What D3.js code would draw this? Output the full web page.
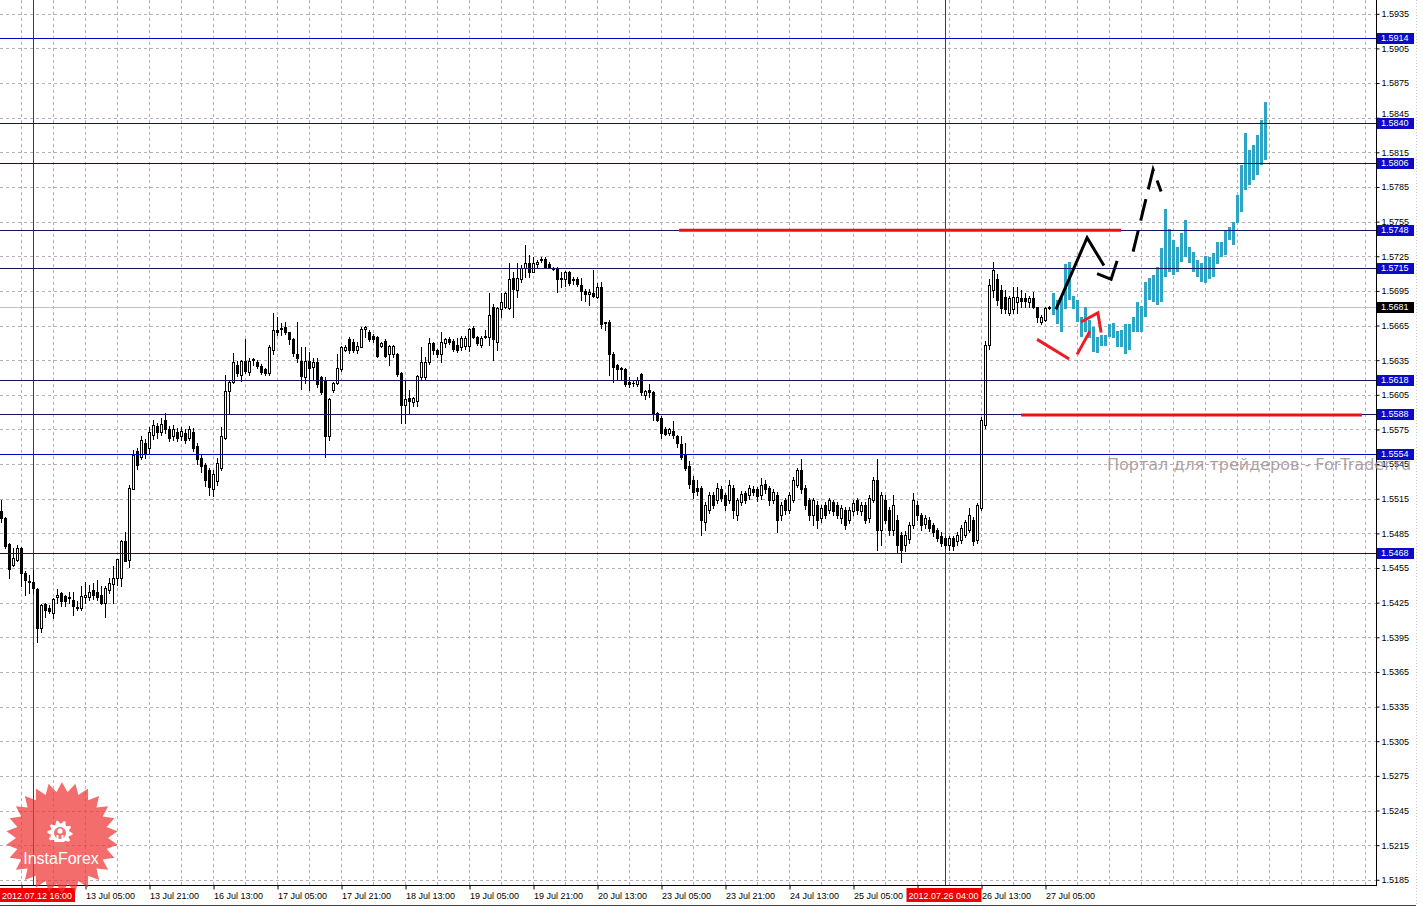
<!DOCTYPE html>
<html><head><meta charset="utf-8">
<script src="https://cdn.jsdelivr.net/npm/d3@7"></script>
<style>html,body{margin:0;padding:0;background:#fff;overflow:hidden}svg{display:block}text{font-family:"Liberation Sans",Arial,sans-serif}</style>
</head><body><svg id="c" width="1423" height="907"></svg>
<script>
// ---------- DATA (GBPUSD H1) ----------
const opens=[1.5504,1.5498,1.5476,1.5458,1.5462,1.5472,1.5451,1.5444,1.5443,1.5437,
1.5403,1.5424,1.5420,1.5416,1.5430,1.5433,1.5431,1.5429,1.5427,1.5421,
1.5420,1.5430,1.5430,1.5436,1.5434,1.5432,1.5425,1.5436,1.5441,1.5446,
1.5446,1.5478,1.5462,1.5523,1.5556,1.5551,1.5563,1.5559,1.5570,1.5578,
1.5573,1.5583,1.5575,1.5569,1.5573,1.5569,1.5572,1.5568,1.5573,1.5561,
1.5550,1.5544,1.5540,1.5523,1.5530,1.5542,1.5568,1.5608,1.5616,1.5631,
1.5622,1.5634,1.5625,1.5635,1.5633,1.5630,1.5627,1.5624,1.5644,1.5661,
1.5662,1.5664,1.5659,1.5653,1.5640,1.5634,1.5620,1.5634,1.5629,1.5633,
1.5620,1.5618,1.5569,1.5609,1.5615,1.5627,1.5644,1.5653,1.5651,1.5644,
1.5646,1.5662,1.5659,1.5656,1.5655,1.5647,1.5652,1.5640,1.5640,1.5640,
1.5624,1.5596,1.5602,1.5599,1.5600,1.5620,1.5620,1.5633,1.5650,1.5644,
1.5640,1.5650,1.5653,1.5652,1.5648,1.5646,1.5647,1.5647,1.5663,1.5655,
1.5648,1.5655,1.5655,1.5681,1.5651,1.5679,1.5681,1.5680,1.5706,1.5696,
1.5705,1.5715,1.5719,1.5711,1.5718,1.5722,1.5723,1.5718,1.5715,1.5715,
1.5706,1.5705,1.5711,1.5705,1.5705,1.5700,1.5695,1.5692,1.5693,1.5690,
1.5698,1.5668,1.5668,1.5640,1.5631,1.5628,1.5627,1.5616,1.5615,1.5614,
1.5623,1.5605,1.5609,1.5607,1.5589,1.5585,1.5575,1.5572,1.5574,1.5569,
1.5562,1.5554,1.5543,1.5531,1.5524,1.5524,1.5495,1.5505,1.5518,1.5514,
1.5523,1.5518,1.5514,1.5524,1.5501,1.5512,1.5520,1.5518,1.5523,1.5523,
1.5518,1.5528,1.5524,1.5514,1.5518,1.5501,1.5514,1.5505,1.5514,1.5527,
1.5540,1.5524,1.5514,1.5501,1.5510,1.5498,1.5510,1.5505,1.5512,1.5510,
1.5498,1.5505,1.5497,1.5504,1.5514,1.5504,1.5510,1.5498,1.5514,1.5531,
1.5488,1.5514,1.5505,1.5488,1.5497,1.5484,1.5475,1.5480,1.5492,1.5510,
1.5501,1.5493,1.5497,1.5492,1.5488,1.5483,1.5481,1.5475,1.5481,1.5478,
1.5479,1.5484,1.5488,1.5497,1.5479,1.5507,1.5579,1.5648,1.5696,1.5705,
1.5696,1.5690,1.5676,1.5679,1.5685,1.5689,1.5689,1.5685,1.5689,1.5681,
1.5668,1.5670,1.5680];
const highs=[1.5514,1.5499,1.5477,1.5472,1.5475,1.5473,1.5452,1.5449,1.5453,1.5438,
1.5424,1.5425,1.5423,1.5429,1.5437,1.5434,1.5432,1.5434,1.5434,1.5426,
1.5439,1.5443,1.5440,1.5442,1.5445,1.5439,1.5439,1.5446,1.5457,1.5463,
1.5479,1.5486,1.5527,1.5557,1.5559,1.5569,1.5567,1.5577,1.5583,1.5581,
1.5585,1.5589,1.5578,1.5579,1.5576,1.5577,1.5575,1.5578,1.5576,1.5563,
1.5553,1.5546,1.5542,1.5540,1.5550,1.5577,1.5622,1.5618,1.5641,1.5634,
1.5635,1.5653,1.5637,1.5637,1.5635,1.5632,1.5628,1.5648,1.5676,1.5672,
1.5667,1.5668,1.5659,1.5654,1.5668,1.5646,1.5646,1.5642,1.5637,1.5637,
1.5621,1.5620,1.5602,1.5616,1.5640,1.5647,1.5648,1.5655,1.5653,1.5651,
1.5664,1.5665,1.5661,1.5658,1.5656,1.5651,1.5653,1.5648,1.5648,1.5641,
1.5625,1.5618,1.5609,1.5603,1.5622,1.5646,1.5638,1.5654,1.5651,1.5645,
1.5659,1.5654,1.5655,1.5653,1.5654,1.5656,1.5656,1.5663,1.5665,1.5656,
1.5656,1.5661,1.5693,1.5684,1.5681,1.5693,1.5694,1.5719,1.5711,1.5719,
1.5717,1.5735,1.5726,1.5724,1.5722,1.5724,1.5724,1.5720,1.5716,1.5716,
1.5711,1.5712,1.5712,1.5707,1.5707,1.5706,1.5697,1.5697,1.5713,1.5702,
1.5703,1.5668,1.5670,1.5642,1.5632,1.5629,1.5628,1.5620,1.5617,1.5620,
1.5624,1.5609,1.5614,1.5608,1.5590,1.5587,1.5577,1.5576,1.5582,1.5570,
1.5569,1.5563,1.5548,1.5535,1.5531,1.5526,1.5512,1.5521,1.5521,1.5529,
1.5526,1.5520,1.5531,1.5527,1.5516,1.5522,1.5522,1.5527,1.5526,1.5525,
1.5533,1.5531,1.5526,1.5523,1.5521,1.5512,1.5516,1.5521,1.5534,1.5542,
1.5549,1.5527,1.5516,1.5516,1.5513,1.5510,1.5512,1.5516,1.5514,1.5512,
1.5510,1.5508,1.5508,1.5514,1.5516,1.5512,1.5512,1.5518,1.5534,1.5549,
1.5521,1.5518,1.5508,1.5518,1.5501,1.5486,1.5487,1.5495,1.5520,1.5513,
1.5503,1.5501,1.5499,1.5494,1.5490,1.5486,1.5483,1.5483,1.5483,1.5486,
1.5492,1.5497,1.5507,1.5499,1.5511,1.5586,1.5652,1.5705,1.5720,1.5710,
1.5700,1.5696,1.5691,1.5698,1.5698,1.5696,1.5693,1.5691,1.5694,1.5681,
1.5674,1.5681,1.5682];
const lows=[1.5495,1.5472,1.5446,1.5457,1.5461,1.5439,1.5432,1.5433,1.5433,1.5391,
1.5400,1.5413,1.5416,1.5412,1.5425,1.5422,1.5422,1.5425,1.5414,1.5419,
1.5419,1.5425,1.5427,1.5428,1.5427,1.5424,1.5413,1.5433,1.5425,1.5440,
1.5439,1.5461,1.5456,1.5523,1.5541,1.5549,1.5550,1.5555,1.5567,1.5568,
1.5570,1.5572,1.5565,1.5566,1.5565,1.5566,1.5563,1.5566,1.5556,1.5545,
1.5538,1.5526,1.5518,1.5517,1.5527,1.5540,1.5567,1.5589,1.5615,1.5621,
1.5617,1.5624,1.5622,1.5631,1.5628,1.5623,1.5622,1.5622,1.5640,1.5657,
1.5657,1.5658,1.5649,1.5639,1.5633,1.5610,1.5615,1.5609,1.5618,1.5612,
1.5606,1.5551,1.5566,1.5607,1.5614,1.5626,1.5643,1.5641,1.5642,1.5641,
1.5646,1.5655,1.5652,1.5651,1.5638,1.5646,1.5638,1.5631,1.5638,1.5621,
1.5581,1.5581,1.5589,1.5595,1.5595,1.5619,1.5619,1.5632,1.5640,1.5638,
1.5633,1.5646,1.5649,1.5643,1.5642,1.5644,1.5645,1.5643,1.5654,1.5648,
1.5646,1.5654,1.5648,1.5635,1.5644,1.5672,1.5680,1.5679,1.5672,1.5690,
1.5703,1.5707,1.5707,1.5711,1.5716,1.5720,1.5715,1.5715,1.5713,1.5694,
1.5698,1.5699,1.5700,1.5701,1.5699,1.5687,1.5686,1.5683,1.5690,1.5689,
1.5663,1.5661,1.5622,1.5616,1.5618,1.5618,1.5613,1.5612,1.5613,1.5613,
1.5605,1.5601,1.5603,1.5583,1.5582,1.5568,1.5570,1.5570,1.5568,1.5560,
1.5549,1.5540,1.5524,1.5516,1.5518,1.5484,1.5488,1.5503,1.5507,1.5511,
1.5513,1.5505,1.5511,1.5498,1.5497,1.5510,1.5511,1.5515,1.5518,1.5513,
1.5515,1.5520,1.5510,1.5511,1.5486,1.5497,1.5502,1.5503,1.5512,1.5525,
1.5520,1.5506,1.5497,1.5492,1.5490,1.5495,1.5498,1.5503,1.5501,1.5498,
1.5494,1.5489,1.5494,1.5501,1.5502,1.5501,1.5494,1.5495,1.5512,1.5471,
1.5475,1.5494,1.5484,1.5484,1.5469,1.5460,1.5470,1.5477,1.5490,1.5497,
1.5488,1.5490,1.5487,1.5483,1.5478,1.5474,1.5472,1.5471,1.5471,1.5475,
1.5477,1.5482,1.5486,1.5475,1.5477,1.5505,1.5576,1.5645,1.5690,1.5683,
1.5676,1.5676,1.5674,1.5676,1.5676,1.5681,1.5681,1.5681,1.5680,1.5668,
1.5666,1.5669,1.5679];
const closes=[1.5498,1.5474,1.5454,1.5464,1.5472,1.5451,1.5445,1.5443,1.5438,1.5403,
1.5423,1.5419,1.5418,1.5428,1.5432,1.5426,1.5426,1.5430,1.5422,1.5420,
1.5431,1.5432,1.5434,1.5432,1.5430,1.5425,1.5438,1.5442,1.5446,1.5463,
1.5478,1.5461,1.5524,1.5553,1.5544,1.5566,1.5555,1.5573,1.5579,1.5573,
1.5580,1.5575,1.5568,1.5575,1.5568,1.5574,1.5566,1.5575,1.5559,1.5549,
1.5543,1.5531,1.5525,1.5536,1.5546,1.5569,1.5608,1.5616,1.5633,1.5624,
1.5634,1.5626,1.5634,1.5636,1.5630,1.5625,1.5624,1.5646,1.5661,1.5659,
1.5663,1.5659,1.5653,1.5641,1.5637,1.5621,1.5634,1.5628,1.5633,1.5614,
1.5607,1.5569,1.5601,1.5615,1.5628,1.5646,1.5646,1.5644,1.5644,1.5647,
1.5662,1.5664,1.5653,1.5653,1.5639,1.5650,1.5639,1.5647,1.5647,1.5623,
1.5596,1.5601,1.5600,1.5602,1.5621,1.5633,1.5633,1.5650,1.5644,1.5640,
1.5651,1.5653,1.5651,1.5645,1.5644,1.5654,1.5654,1.5662,1.5655,1.5650,
1.5654,1.5656,1.5674,1.5653,1.5680,1.5685,1.5693,1.5705,1.5697,1.5706,
1.5715,1.5719,1.5711,1.5719,1.5720,1.5723,1.5716,1.5716,1.5714,1.5705,
1.5705,1.5711,1.5702,1.5704,1.5701,1.5695,1.5692,1.5694,1.5691,1.5698,
1.5666,1.5667,1.5640,1.5629,1.5627,1.5627,1.5614,1.5614,1.5615,1.5618,
1.5607,1.5608,1.5607,1.5589,1.5583,1.5572,1.5571,1.5575,1.5570,1.5563,
1.5551,1.5542,1.5528,1.5521,1.5522,1.5497,1.5510,1.5518,1.5510,1.5524,
1.5516,1.5510,1.5527,1.5505,1.5514,1.5519,1.5514,1.5524,1.5521,1.5517,
1.5527,1.5523,1.5514,1.5521,1.5497,1.5510,1.5505,1.5518,1.5531,1.5540,
1.5523,1.5510,1.5501,1.5514,1.5497,1.5507,1.5501,1.5514,1.5504,1.5501,
1.5507,1.5492,1.5505,1.5511,1.5505,1.5510,1.5497,1.5516,1.5531,1.5488,
1.5518,1.5497,1.5488,1.5510,1.5475,1.5471,1.5484,1.5492,1.5514,1.5501,
1.5492,1.5498,1.5490,1.5486,1.5481,1.5477,1.5475,1.5481,1.5474,1.5484,
1.5490,1.5495,1.5501,1.5478,1.5510,1.5583,1.5648,1.5700,1.5713,1.5687,
1.5680,1.5679,1.5689,1.5690,1.5690,1.5686,1.5686,1.5689,1.5681,1.5672,
1.5672,1.5680,1.5681];
// forecast bars (cyan), starting right after the last real bar
const forecastHigh=[1.5693,1.5687,1.5690,1.5718,1.5720,1.5691,1.5687,1.5672,1.5681,1.5670,
1.5664,1.5655,1.5657,1.5657,1.5666,1.5667,1.5660,1.5661,1.5666,1.5666,
1.5672,1.5685,1.5682,1.5703,1.5706,1.5709,1.5716,1.5732,1.5766,1.5749,
1.5739,1.5733,1.5745,1.5756,1.5733,1.5729,1.5722,1.5719,1.5725,1.5724,
1.5728,1.5737,1.5737,1.5748,1.5750,1.5755,1.5778,1.5804,1.5832,1.5817,
1.5821,1.5830,1.5843,1.5859];
const forecastLow=[1.5674,1.5666,1.5659,1.5679,1.5687,1.5679,1.5668,1.5655,1.5659,1.5654,
1.5642,1.5641,1.5647,1.5647,1.5655,1.5654,1.5646,1.5646,1.5640,1.5644,
1.5659,1.5659,1.5659,1.5672,1.5687,1.5685,1.5683,1.5685,1.5707,1.5711,
1.5709,1.5711,1.5720,1.5724,1.5719,1.5711,1.5707,1.5703,1.5702,1.5705,
1.5707,1.5718,1.5724,1.5726,1.5739,1.5735,1.5754,1.5763,1.5782,1.5787,
1.5791,1.5795,1.5804,1.5808];
const priceTicks=[1.5185,1.5215,1.5245,1.5275,1.5305,1.5335,1.5365,1.5395,1.5425,1.5455,1.5485,1.5515,1.5545,1.5575,1.5605,1.5635,1.5665,1.5695,1.5725,1.5755,1.5785,1.5815,1.5845,1.5875,1.5905,1.5935];
const timeTickIdx=[5,21,37,53,69,85,101,117,133,149,165,181,197,213,229,245,261];
const timeLabels=["","13 Jul 05:00","13 Jul 21:00","16 Jul 13:00","17 Jul 05:00","17 Jul 21:00","18 Jul 13:00","19 Jul 05:00","19 Jul 21:00","20 Jul 13:00","23 Jul 05:00","23 Jul 21:00","24 Jul 13:00","25 Jul 05:00","","26 Jul 13:00","27 Jul 05:00"];
const levelPrices=[1.5914,1.5840,1.5806,1.5748,1.5715,1.5618,1.5588,1.5554,1.5468];
const darkLevels=[1.5840,1.5748,1.5715,1.5618,1.5588];
const currentPrice=1.5681;
const markerIdx=[8,236];
const markerLabels=["2012.07.12 16:00","2012.07.26 04:00"];
const redLevelPrice=[1.5748,1.5588];
const redLevelFrom=[169.4,254.9];
const redLevelTo=[279.9,340.1];
const blackSolidA=[[263.6,1.5679],[271.4,1.5741],[275.6,1.5717]];
const blackSolidB=[[273.9,1.5710],[277.4,1.5705],[278.9,1.5721]];
const blackDashed=[[282.9,1.5729],[287.9,1.5800],[289.9,1.5781]];
const redStrokeA=[[258.9,1.5653],[266.9,1.5636]];
const redStrokeB=[[268.9,1.5640],[272.1,1.5660]];
const redStrokeC=[[269.9,1.5668],[274.1,1.5676],[274.9,1.5659]];
const watermark="Портал для трейдеров - ForTrader.ru";
const logoText="InstaForex";

// ---------- LAYOUT ----------
const PR=1376, PB=885;
const svg=d3.select("#c");
svg.append("rect").attr("width",1423).attr("height",907).attr("fill","#fff");
const x=d3.scaleLinear().domain([0,300]).range([1.5,1201.5]);
const y=d3.scaleLinear().domain([1.5914,1.5468]).range([38,553]);
const py=p=>Math.round(y(p))+0.5;

svg.append("defs").append("clipPath").attr("id","plot").append("rect").attr("x",0).attr("y",0).attr("width",PR).attr("height",PB);
const plot=svg.append("g").attr("clip-path","url(#plot)");

// grid
const gridCol="#b9adb9";
const gx=[]; for(let i=5;x(i)<PR;i+=8) gx.push(i);
plot.append("g").selectAll("line").data(gx).join("line")
  .attr("x1",d=>x(d)).attr("x2",d=>x(d)).attr("y1",0).attr("y2",PB)
  .attr("stroke",gridCol).attr("stroke-dasharray","3,3");
plot.append("g").selectAll("line").data(priceTicks).join("line")
  .attr("x1",0).attr("x2",PR).attr("y1",d=>py(d)).attr("y2",d=>py(d))
  .attr("stroke",gridCol).attr("stroke-dasharray","3,3");

// current price line
plot.append("line").attr("x1",0).attr("x2",PR).attr("y1",py(currentPrice)).attr("y2",py(currentPrice)).attr("stroke","#b8cbb0");

// vertical red markers
plot.append("g").selectAll("line").data(markerIdx).join("line")
  .attr("x1",d=>x(d)).attr("x2",d=>x(d)).attr("y1",0).attr("y2",PB).attr("stroke","#d00000");

// candles
const bars=opens.map((o,i)=>({i,o,h:highs[i],l:lows[i],c:closes[i]}));
const cg=plot.append("g").attr("shape-rendering","crispEdges");
cg.selectAll("line").data(bars).join("line")
  .attr("x1",d=>x(d.i)).attr("x2",d=>x(d.i))
  .attr("y1",d=>Math.round(y(d.h))).attr("y2",d=>Math.round(y(d.l))+1)
  .attr("stroke","#000");
cg.selectAll("rect").data(bars).join("rect")
  .attr("x",d=>x(d.i)-1).attr("width",2)
  .attr("y",d=>py(Math.max(d.o,d.c)))
  .attr("height",d=>Math.max(py(Math.min(d.o,d.c))-py(Math.max(d.o,d.c)),0.01))
  .attr("fill",d=>d.c>=d.o?"#fff":"#000").attr("stroke","#000");

// forecast bars
const fc=forecastHigh.map((h,k)=>({i:opens.length+k,h,l:forecastLow[k]}));
plot.append("g").attr("shape-rendering","crispEdges").selectAll("rect").data(fc).join("rect")
  .attr("x",d=>x(d.i)-1.5).attr("width",3)
  .attr("y",d=>Math.round(y(d.h))).attr("height",d=>Math.round(y(d.l))-Math.round(y(d.h)))
  .attr("fill","#2fa5c6");

// level lines
plot.append("g").attr("shape-rendering","crispEdges").selectAll("line").data(levelPrices).join("line")
  .attr("x1",0).attr("x2",PR).attr("y1",d=>py(d)).attr("y2",d=>py(d))
  .attr("stroke",d=>darkLevels.includes(d)?"#14145e":"#0000c8");

// red thick horizontal lines
plot.append("g").selectAll("line").data(redLevelPrice).join("line")
  .attr("x1",(d,k)=>x(redLevelFrom[k])).attr("x2",(d,k)=>x(redLevelTo[k]))
  .attr("y1",d=>y(d)+0.5).attr("y2",d=>y(d)+0.5)
  .attr("stroke","#f01010").attr("stroke-width",3);

// hand drawn strokes
const ln=d3.line().x(d=>x(d[0])).y(d=>y(d[1]));
const stroke=(pts,col,dash)=>plot.append("path").attr("d",ln(pts)).attr("fill","none").attr("stroke",col).attr("stroke-width",3)
  .attr("stroke-dasharray",dash||null).attr("stroke-linejoin","miter");
stroke(blackSolidA,"#000");
stroke(blackSolidB,"#000");
stroke(blackDashed,"#000","22,10");
stroke(redStrokeA,"#ee1c24");
stroke(redStrokeB,"#ee1c24");
stroke(redStrokeC,"#ee1c24");

// ---------- AXES ----------
const yAxis=d3.axisRight(y).tickValues(priceTicks).tickFormat(d3.format(".4f")).tickSize(3).tickPadding(2);
const ya=svg.append("g").attr("transform",`translate(${PR+0.5},0)`).call(yAxis);
ya.select(".domain").remove();
ya.selectAll("text").attr("font-size","9px").attr("fill","#000");
ya.selectAll(".tick").filter(d=>levelPrices.some(p=>Math.abs(y(p)-y(d))<8 && y(p)>y(d)))
  .select("text").attr("dy","-0.1em");

const xAxis=d3.axisBottom(x).tickValues(timeTickIdx).tickFormat((d,k)=>timeLabels[k]).tickSize(4).tickPadding(3);
const xa=svg.append("g").attr("transform",`translate(0,${PB+0.5})`).call(xAxis);
xa.select(".domain").remove();
xa.selectAll("text").attr("font-size","9px").attr("fill","#000").attr("text-anchor","start");

svg.append("line").attr("x1",PR+0.5).attr("x2",PR+0.5).attr("y1",0).attr("y2",PB+1).attr("stroke","#000");
svg.append("line").attr("x1",0).attr("x2",PR+1).attr("y1",PB+0.5).attr("y2",PB+0.5).attr("stroke","#000");
svg.append("line").attr("x1",0).attr("x2",1416).attr("y1",905.5).attr("y2",905.5).attr("stroke","#444");
svg.append("line").attr("x1",1416.5).attr("x2",1416.5).attr("y1",0).attr("y2",905).attr("stroke","#ccc").attr("stroke-dasharray","1,2");

// level labels
const lab=svg.append("g");
levelPrices.concat([currentPrice]).forEach(p=>{
  const yy=Math.round(y(p));
  lab.append("rect").attr("x",PR+1).attr("y",yy-5).attr("width",37).attr("height",11)
    .attr("fill",p===currentPrice?"#000":"#0a0ac8");
  lab.append("text").attr("x",PR+5).attr("y",yy).attr("dy","0.34em").attr("font-size","9px").attr("fill","#fff").text(d3.format(".4f")(p));
});

// time marker labels
markerIdx.forEach((m,k)=>{
  const cx=x(m), bx=Math.max(0,cx-39);
  svg.append("rect").attr("x",bx).attr("y",888).attr("width",75).attr("height",14).attr("fill","#f00000");
  svg.append("text").attr("x",bx+2).attr("y",898.5).attr("font-size","9px").attr("fill","#fff").text(markerLabels[k]);
});

// ---------- LOGO ----------
const lg=svg.append("g").attr("transform","translate(62,838)");
const nP=26, rO=56, rI=46;
const starPts=d3.range(nP*2).map(k=>{const a=Math.PI*k/nP-Math.PI/2;const r=k%2?rI:rO;return [r*Math.cos(a),r*Math.sin(a)];});
lg.append("path").attr("d","M"+starPts.join("L")+"Z").attr("fill","#ee3535").attr("opacity",0.72);
const gear=lg.append("g").attr("transform","translate(-2,-5)");
const teeth=10;
const gearPts=d3.range(teeth*4).map(k=>{const a=2*Math.PI*k/(teeth*4);const r=(Math.floor(k/2)%2)?9.5:12.5;return [r*Math.cos(a),r*Math.sin(a)];});
gear.append("path").attr("d","M"+gearPts.join("L")+"Z").attr("fill","#fff");
gear.append("circle").attr("r",6).attr("fill","#f17070");
gear.append("circle").attr("cx",0).attr("cy",-2).attr("r",2.6).attr("fill","#fff");
gear.append("rect").attr("x",-3.5).attr("y",2).attr("width",2).attr("height",11).attr("fill","#fff");
gear.append("rect").attr("x",1.5).attr("y",2).attr("width",2).attr("height",11).attr("fill","#fff");
gear.append("rect").attr("x",-6).attr("y",9).attr("width",12).attr("height",5).attr("fill","#f17070");
lg.append("text").attr("x",-1).attr("y",26).attr("text-anchor","middle").attr("font-size","16px").attr("fill","#fff").text(logoText);

// ---------- WATERMARK ----------
svg.append("text").attr("x",1107).attr("y",470).attr("font-size","16px")
  .style("font-family","'DejaVu Sans', sans-serif")
  .attr("fill","#9a8c8c").attr("opacity",0.8).text(watermark);
</script></body></html>
